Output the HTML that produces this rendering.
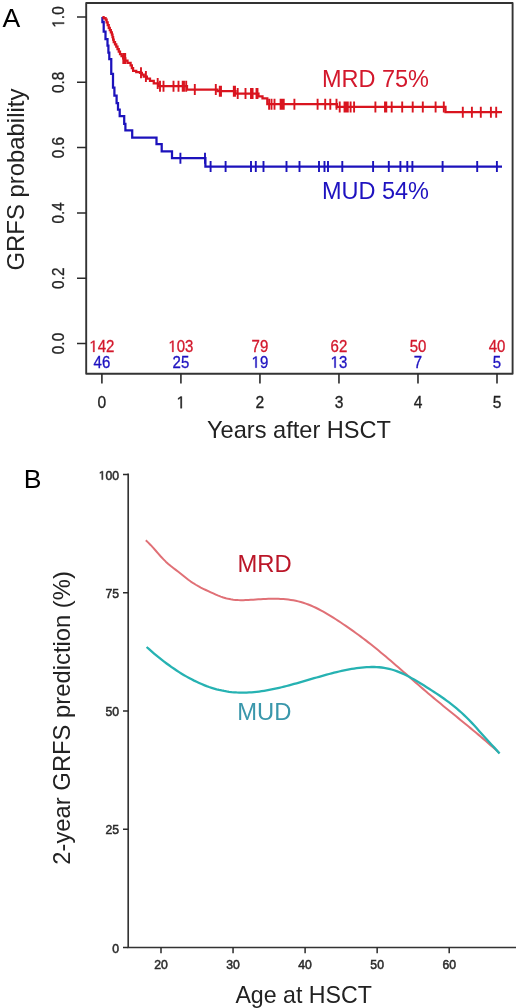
<!DOCTYPE html>
<html><head><meta charset="utf-8"><title>GRFS figure</title>
<style>
html,body{margin:0;padding:0;background:#fff;}
body{width:520px;height:1008px;overflow:hidden;}
svg{display:block;font-family:"Liberation Sans", sans-serif;will-change:transform;}
</style></head>
<body>
<svg width="520" height="1008" viewBox="0 0 520 1008">
<rect width="520" height="1008" fill="#fff"/>
<text x="2.4" y="26.7" font-size="26.6" fill="#000">A</text>
<rect x="86.2" y="3" width="426.4" height="370.8" fill="none" stroke="#333" stroke-width="1.9" stroke-linejoin="round"/>
<path d="M77,343.5H86.2M77,278.2H86.2M77,212.9H86.2M77,147.6H86.2M77,82.3H86.2M77,17H86.2" stroke="#2b2b2b" stroke-width="1.5" fill="none"/>
<g transform="translate(64.1,343.5) rotate(-90)"><g transform="translate(0,0) scale(1,1.1)"><text x="-10.7" y="0" font-size="15.4" fill="#222" stroke="#222" stroke-width="0.3">0.0</text></g></g>
<g transform="translate(64.1,278.2) rotate(-90)"><g transform="translate(0,0) scale(1,1.1)"><text x="-10.7" y="0" font-size="15.4" fill="#222" stroke="#222" stroke-width="0.3">0.2</text></g></g>
<g transform="translate(64.1,212.9) rotate(-90)"><g transform="translate(0,0) scale(1,1.1)"><text x="-10.7" y="0" font-size="15.4" fill="#222" stroke="#222" stroke-width="0.3">0.4</text></g></g>
<g transform="translate(64.1,147.6) rotate(-90)"><g transform="translate(0,0) scale(1,1.1)"><text x="-10.7" y="0" font-size="15.4" fill="#222" stroke="#222" stroke-width="0.3">0.6</text></g></g>
<g transform="translate(64.1,82.3) rotate(-90)"><g transform="translate(0,0) scale(1,1.1)"><text x="-10.7" y="0" font-size="15.4" fill="#222" stroke="#222" stroke-width="0.3">0.8</text></g></g>
<g transform="translate(64.1,17) rotate(-90)"><g transform="translate(0,0) scale(1,1.1)"><path transform="translate(-10.7,0) scale(0.007520,-0.007520)" d="M696 0H515V1237Q440 1160 340 1105Q265 1062 197 1038V1200Q300 1245 390 1310Q480 1375 530 1409H696Z" fill="#222" stroke="#222" stroke-width="39.9"/><text x="-2.14" y="0" font-size="15.4" fill="#222" stroke="#222" stroke-width="0.3">.0</text></g></g>
<path d="M101.9,373.8V383.6M180.92,373.8V383.6M259.94,373.8V383.6M338.96,373.8V383.6M417.98,373.8V383.6M497,373.8V383.6" stroke="#2b2b2b" stroke-width="1.6" fill="none"/>
<g transform="translate(101.9,408.3) scale(1,1.1)"><text x="-4.34" y="0" font-size="15.6" fill="#222" stroke="#222" stroke-width="0.3">0</text></g>
<g transform="translate(180.92,408.3) scale(1,1.1)"><path transform="translate(-4.34,0) scale(0.007617,-0.007617)" d="M696 0H515V1237Q440 1160 340 1105Q265 1062 197 1038V1200Q300 1245 390 1310Q480 1375 530 1409H696Z" fill="#222" stroke="#222" stroke-width="39.38"/></g>
<g transform="translate(259.94,408.3) scale(1,1.1)"><text x="-4.34" y="0" font-size="15.6" fill="#222" stroke="#222" stroke-width="0.3">2</text></g>
<g transform="translate(338.96,408.3) scale(1,1.1)"><text x="-4.34" y="0" font-size="15.6" fill="#222" stroke="#222" stroke-width="0.3">3</text></g>
<g transform="translate(417.98,408.3) scale(1,1.1)"><text x="-4.34" y="0" font-size="15.6" fill="#222" stroke="#222" stroke-width="0.3">4</text></g>
<g transform="translate(497,408.3) scale(1,1.1)"><text x="-4.34" y="0" font-size="15.6" fill="#222" stroke="#222" stroke-width="0.3">5</text></g>
<text x="207" y="438.2" font-size="23.6" fill="#222">Years after HSCT</text>
<text transform="translate(24.3,179.6) rotate(-90)" text-anchor="middle" font-size="23.9" fill="#222">GRFS probability</text>
<g transform="translate(101.9,351.9) scale(1,1.09)"><path transform="translate(-12.51,0) scale(0.007324,-0.007324)" d="M696 0H515V1237Q440 1160 340 1105Q265 1062 197 1038V1200Q300 1245 390 1310Q480 1375 530 1409H696Z" fill="#d3182c" stroke="#d3182c" stroke-width="40.96"/><text x="-4.17" y="0" font-size="15" fill="#d3182c" stroke="#d3182c" stroke-width="0.3">42</text></g>
<g transform="translate(101.9,367.7) scale(1,1.09)"><text x="-8.34" y="0" font-size="15" fill="#1e12c0" stroke="#1e12c0" stroke-width="0.3">46</text></g>
<g transform="translate(180.92,351.9) scale(1,1.09)"><path transform="translate(-12.51,0) scale(0.007324,-0.007324)" d="M696 0H515V1237Q440 1160 340 1105Q265 1062 197 1038V1200Q300 1245 390 1310Q480 1375 530 1409H696Z" fill="#d3182c" stroke="#d3182c" stroke-width="40.96"/><text x="-4.17" y="0" font-size="15" fill="#d3182c" stroke="#d3182c" stroke-width="0.3">03</text></g>
<g transform="translate(180.92,367.7) scale(1,1.09)"><text x="-8.34" y="0" font-size="15" fill="#1e12c0" stroke="#1e12c0" stroke-width="0.3">25</text></g>
<g transform="translate(259.94,351.9) scale(1,1.09)"><text x="-8.34" y="0" font-size="15" fill="#d3182c" stroke="#d3182c" stroke-width="0.3">79</text></g>
<g transform="translate(259.94,367.7) scale(1,1.09)"><path transform="translate(-8.34,0) scale(0.007324,-0.007324)" d="M696 0H515V1237Q440 1160 340 1105Q265 1062 197 1038V1200Q300 1245 390 1310Q480 1375 530 1409H696Z" fill="#1e12c0" stroke="#1e12c0" stroke-width="40.96"/><text x="0" y="0" font-size="15" fill="#1e12c0" stroke="#1e12c0" stroke-width="0.3">9</text></g>
<g transform="translate(338.96,351.9) scale(1,1.09)"><text x="-8.34" y="0" font-size="15" fill="#d3182c" stroke="#d3182c" stroke-width="0.3">62</text></g>
<g transform="translate(338.96,367.7) scale(1,1.09)"><path transform="translate(-8.34,0) scale(0.007324,-0.007324)" d="M696 0H515V1237Q440 1160 340 1105Q265 1062 197 1038V1200Q300 1245 390 1310Q480 1375 530 1409H696Z" fill="#1e12c0" stroke="#1e12c0" stroke-width="40.96"/><text x="0" y="0" font-size="15" fill="#1e12c0" stroke="#1e12c0" stroke-width="0.3">3</text></g>
<g transform="translate(417.98,351.9) scale(1,1.09)"><text x="-8.34" y="0" font-size="15" fill="#d3182c" stroke="#d3182c" stroke-width="0.3">50</text></g>
<g transform="translate(417.98,367.7) scale(1,1.09)"><text x="-4.17" y="0" font-size="15" fill="#1e12c0" stroke="#1e12c0" stroke-width="0.3">7</text></g>
<g transform="translate(497,351.9) scale(1,1.09)"><text x="-8.34" y="0" font-size="15" fill="#d3182c" stroke="#d3182c" stroke-width="0.3">40</text></g>
<g transform="translate(497,367.7) scale(1,1.09)"><text x="-4.17" y="0" font-size="15" fill="#1e12c0" stroke="#1e12c0" stroke-width="0.3">5</text></g>
<path d="M102.4,17V22H103.7V31.5H105.5V39H107.5V45.5H108.4V52.5H109.3V59H111.25V73.75H113V87.6H114.4V95.6H116.6V103.2H118V109.5H119.7V116.2H124.2V123.75H125.4V130.4H132.2V137.6H156.5V144H161.7V151.3H172V158.2H205.4V166.6H502" stroke="#1c12bc" stroke-width="2.25" fill="none" stroke-linejoin="miter"/>
<path d="M180.4,152.7V163.7M205,152.7V163.7M210.6,161.1V172.1M225.6,161.1V172.1M251,161.1V172.1M255.8,161.1V172.1M263.5,161.1V172.1M286.5,161.1V172.1M299.5,161.1V172.1M319,161.1V172.1M324.5,161.1V172.1M328,161.1V172.1M342.3,161.1V172.1M373.1,161.1V172.1M388.8,161.1V172.1M400.4,161.1V172.1M407.3,161.1V172.1M412.4,161.1V172.1M442.6,161.1V172.1M477.2,161.1V172.1M496.9,161.1V172.1" stroke="#1c12bc" stroke-width="1.9" fill="none"/>
<path d="M102.4,17H103.6V18.2H105.6V19.6H106.65V22.32H107.7V25.03H108.75V27.75H109.8V30.03H110.85V32.32H111.9V34.6H112.52V37.1H113.13V39.6H113.75V42.1H115V44.3H116.25V46.5H117.5V49H118.75V51.5H120V54H121.55V56.2H123.1V58.4H125.3V60.58H127.5V62.75H130.6V65.25H131.85V68.08H133.1V70.9H136.25V72.1H140V72.75H141.88V74.62H143.75V76.5H146.88V78.7H150V80.9H153.75V83.4H158.1V86.2H187V89.6H217.5V91.2H235.5V93.6H258.5V96.4H262.5V98.4H267.3V104.2H336.9V106.9H445.5V112.2H502" stroke="#d9141f" stroke-width="2.25" fill="none" stroke-linejoin="miter"/>
<path d="M123.3,52.9V63.9M125.2,52.9V63.9M141,67.25V78.25M145.9,71V82M157.7,77.9V88.9M160,80.7V91.7M163.5,80.7V91.7M173.5,80.7V91.7M178.5,80.7V91.7M182.7,80.7V91.7M184,80.7V91.7M186.2,80.7V91.7M194.8,84.1V95.1M215.8,84.1V95.1M219.8,85.7V96.7M221,85.7V96.7M233.8,85.7V96.7M235,85.7V96.7M237.7,88.1V99.1M245.5,88.1V99.1M251,88.1V99.1M252.6,88.1V99.1M256.5,88.1V99.1M257.5,88.1V99.1M269.1,98.7V109.7M271.5,98.7V109.7M274.5,98.7V109.7M280.6,98.7V109.7M282,98.7V109.7M283.75,98.7V109.7M294.4,98.7V109.7M317.6,98.7V109.7M325.2,98.7V109.7M330.3,98.7V109.7M336.5,98.7V109.7M339.7,101.4V112.4M344.5,101.4V112.4M346,101.4V112.4M347.8,101.4V112.4M350.6,101.4V112.4M354.1,101.4V112.4M375.4,101.4V112.4M385,101.4V112.4M386.3,101.4V112.4M391.7,101.4V112.4M402.2,101.4V112.4M412.7,101.4V112.4M422.8,101.4V112.4M435.6,101.4V112.4M443.8,101.4V112.4M462.8,106.7V117.7M471.9,106.7V117.7M480.8,106.7V117.7M490.9,106.7V117.7M496.2,106.7V117.7" stroke="#d9141f" stroke-width="1.9" fill="none"/>
<text x="321.9" y="86.7" font-size="23.5" fill="#d3182c">MRD 75%</text>
<text x="321.9" y="198.8" font-size="23.5" fill="#1e12c0">MUD 54%</text>
<text x="23.8" y="488.1" font-size="26.6" fill="#000">B</text>
<path d="M128.2,473.6V947.5H516" stroke="#333" stroke-width="1.65" fill="none"/>
<path d="M123,947.5H128.2M123,829.23H128.2M123,710.95H128.2M123,592.67H128.2M123,474.4H128.2M161,947.5V953.3M233.05,947.5V953.3M305.1,947.5V953.3M377.15,947.5V953.3M449.2,947.5V953.3" stroke="#2b2b2b" stroke-width="1.5" fill="none"/>
<text x="112.31" y="952.7" font-size="12.2" fill="#2a2a2a" stroke="#2a2a2a" stroke-width="0.5">0</text>
<text x="105.53" y="834.43" font-size="12.2" fill="#2a2a2a" stroke="#2a2a2a" stroke-width="0.5">25</text>
<text x="105.53" y="716.15" font-size="12.2" fill="#2a2a2a" stroke="#2a2a2a" stroke-width="0.5">50</text>
<text x="105.53" y="597.88" font-size="12.2" fill="#2a2a2a" stroke="#2a2a2a" stroke-width="0.5">75</text>
<path transform="translate(98.74,479.6) scale(0.005957,-0.005957)" d="M696 0H515V1237Q440 1160 340 1105Q265 1062 197 1038V1200Q300 1245 390 1310Q480 1375 530 1409H696Z" fill="#2a2a2a" stroke="#2a2a2a" stroke-width="83.93"/><text x="105.53" y="479.6" font-size="12.2" fill="#2a2a2a" stroke="#2a2a2a" stroke-width="0.5">00</text>
<text x="154.21" y="968.8" font-size="12.2" fill="#2a2a2a" stroke="#2a2a2a" stroke-width="0.5">20</text>
<text x="226.26" y="968.8" font-size="12.2" fill="#2a2a2a" stroke="#2a2a2a" stroke-width="0.5">30</text>
<text x="298.31" y="968.8" font-size="12.2" fill="#2a2a2a" stroke="#2a2a2a" stroke-width="0.5">40</text>
<text x="370.36" y="968.8" font-size="12.2" fill="#2a2a2a" stroke="#2a2a2a" stroke-width="0.5">50</text>
<text x="442.41" y="968.8" font-size="12.2" fill="#2a2a2a" stroke="#2a2a2a" stroke-width="0.5">60</text>
<text x="235.4" y="1003" font-size="23.2" fill="#222">Age at HSCT</text>
<text transform="translate(70.2,717.9) rotate(-90)" text-anchor="middle" font-size="23.8" fill="#222">2-year GRFS prediction (%)</text>
<path d="M145.8,540.28L148.3,542.61L150.8,545.18L153.3,547.93L155.8,550.78L158.3,553.65L160.8,556.47L163.3,559.16L165.8,561.66L168.3,563.92L170.8,566.01L173.3,567.97L175.8,569.87L178.3,571.77L180.8,573.73L183.3,575.77L185.8,577.81L188.3,579.76L190.8,581.56L193.3,583.22L195.8,584.75L198.3,586.18L200.8,587.52L203.3,588.78L205.8,589.99L208.3,591.16L210.8,592.31L213.3,593.45L215.8,594.56L218.3,595.61L220.8,596.59L223.3,597.48L225.8,598.23L228.3,598.85L230.8,599.33L233.3,599.69L235.8,599.94L238.3,600.09L240.8,600.16L243.3,600.16L245.8,600.1L248.3,600L250.8,599.86L253.3,599.7L255.8,599.53L258.3,599.37L260.8,599.22L263.3,599.08L265.8,598.96L268.3,598.87L270.8,598.81L273.3,598.78L275.8,598.8L278.3,598.85L280.8,598.95L283.3,599.11L285.8,599.32L288.3,599.59L290.8,599.93L293.3,600.33L295.8,600.82L298.3,601.38L300.8,602.02L303.3,602.76L305.8,603.58L308.3,604.5L310.8,605.5L313.3,606.59L315.8,607.76L318.3,608.99L320.8,610.3L323.3,611.66L325.8,613.08L328.3,614.56L330.8,616.08L333.3,617.64L335.8,619.24L338.3,620.87L340.8,622.53L343.3,624.21L345.8,625.91L348.3,627.63L350.8,629.38L353.3,631.15L355.8,632.95L358.3,634.77L360.8,636.62L363.3,638.5L365.8,640.41L368.3,642.34L370.8,644.3L373.3,646.29L375.8,648.31L378.3,650.34L380.8,652.4L383.3,654.48L385.8,656.58L388.3,658.7L390.8,660.83L393.3,662.98L395.8,665.14L398.3,667.31L400.8,669.49L403.3,671.68L405.8,673.87L408.3,676.06L410.8,678.25L413.3,680.44L415.8,682.63L418.3,684.8L420.8,686.97L423.3,689.13L425.8,691.28L428.3,693.41L430.8,695.53L433.3,697.63L435.8,699.71L438.3,701.79L440.8,703.85L443.3,705.9L445.8,707.95L448.3,709.99L450.8,712.02L453.3,714.06L455.8,716.09L458.3,718.12L460.8,720.16L463.3,722.2L465.8,724.25L468.3,726.3L470.8,728.36L473.3,730.44L475.8,732.52L478.3,734.62L480.8,736.74L483.3,738.87L485.8,741.02L488.3,743.2L490.8,745.39L493.3,747.61L495.8,749.86L498.3,752.13L499.3,753.05" stroke="#e07076" stroke-width="2" fill="none" stroke-linejoin="round"/>
<path d="M146.6,647.01L149.1,649.23L151.6,651.41L154.1,653.54L156.6,655.62L159.1,657.66L161.6,659.64L164.1,661.58L166.6,663.46L169.1,665.3L171.6,667.08L174.1,668.81L176.6,670.48L179.1,672.1L181.6,673.66L184.1,675.17L186.6,676.62L189.1,678.01L191.6,679.34L194.1,680.62L196.6,681.83L199.1,682.98L201.6,684.07L204.1,685.1L206.6,686.07L209.1,686.97L211.6,687.8L214.1,688.57L216.6,689.28L219.1,689.91L221.6,690.48L224.1,690.98L226.6,691.41L229.1,691.77L231.6,692.07L234.1,692.3L236.6,692.47L239.1,692.58L241.6,692.63L244.1,692.62L246.6,692.56L249.1,692.45L251.6,692.29L254.1,692.08L256.6,691.83L259.1,691.54L261.6,691.2L264.1,690.82L266.6,690.41L269.1,689.96L271.6,689.47L274.1,688.96L276.6,688.42L279.1,687.85L281.6,687.25L284.1,686.64L286.6,686L289.1,685.34L291.6,684.67L294.1,683.98L296.6,683.28L299.1,682.57L301.6,681.86L304.1,681.13L306.6,680.4L309.1,679.67L311.6,678.94L314.1,678.21L316.6,677.49L319.1,676.77L321.6,676.06L324.1,675.36L326.6,674.68L329.1,674L331.6,673.35L334.1,672.71L336.6,672.1L339.1,671.5L341.6,670.94L344.1,670.4L346.6,669.89L349.1,669.41L351.6,668.97L354.1,668.57L356.6,668.2L359.1,667.88L361.6,667.6L364.1,667.37L366.6,667.19L369.1,667.07L371.6,667L374.1,667.01L376.6,667.09L379.1,667.26L381.6,667.51L384.1,667.85L386.6,668.29L389.1,668.84L391.6,669.5L394.1,670.27L396.6,671.14L399.1,672.11L401.6,673.17L404.1,674.31L406.6,675.52L409.1,676.81L411.6,678.16L414.1,679.56L416.6,681.01L419.1,682.5L421.6,684.03L424.1,685.59L426.6,687.16L429.1,688.76L431.6,690.36L434.1,691.98L436.6,693.63L439.1,695.3L441.6,697.01L444.1,698.77L446.6,700.57L449.1,702.43L451.6,704.35L454.1,706.33L456.6,708.39L459.1,710.53L461.6,712.75L464.1,715.07L466.6,717.49L469.1,720.01L471.6,722.63L474.1,725.34L476.6,728.1L479.1,730.91L481.6,733.73L484.1,736.54L486.6,739.32L489.1,742.06L491.6,744.73L494.1,747.4L496.6,750.13L499.1,752.99L499.6,753.59" stroke="#26b2b2" stroke-width="2.3" fill="none" stroke-linejoin="round"/>
<text x="237.4" y="572.1" font-size="23.8" fill="#bb1628">MRD</text>
<text x="237.2" y="719.6" font-size="23.8" fill="#3a97ab">MUD</text>
</svg>
</body></html>
